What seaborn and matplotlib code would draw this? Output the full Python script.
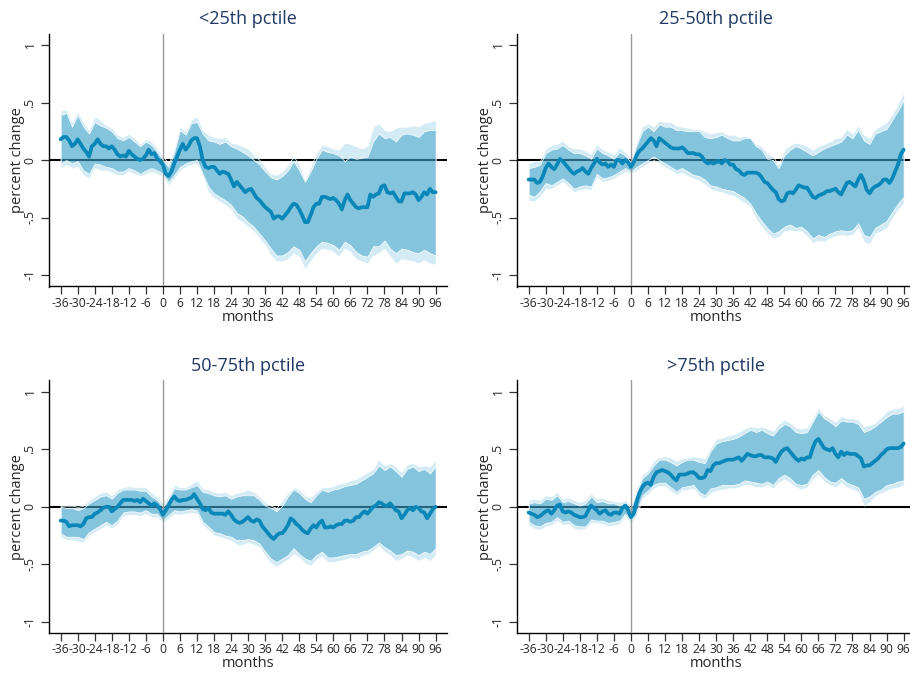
import numpy as np
import pandas as pd
import matplotlib
matplotlib.use("Agg")
import matplotlib.pyplot as plt
import seaborn as sns

# ---------------- data ----------------
months = list(range(-36, 97))
band_months = list(range(-36, 97, 2))
xticks = list(range(-36, 97, 6))
xtick_labels = [str(v) for v in xticks]
yticks = [-1, -0.5, 0, 0.5, 1]
ytick_labels = ["-1", "-.5", "0", ".5", "1"]
titles = ["<25th pctile", "25-50th pctile", "50-75th pctile", ">75th pctile"]

# Panel 1: <25th pctile
p1_mean = [0.18, 0.20, 0.20, 0.17, 0.12, 0.14, 0.18, 0.14, 0.10, 0.07, 0.03, 0.12,
           0.14, 0.18, 0.14, 0.12, 0.12, 0.10, 0.12, 0.09, 0.05, 0.03, 0.04, 0.03,
           0.08, 0.05, 0.03, 0.01, 0.00, 0.01, 0.04, 0.09, 0.05, 0.06, 0.01, -0.01,
           -0.04, -0.12, -0.14, -0.10, -0.03, 0.03, 0.09, 0.14, 0.09, 0.12, 0.17, 0.19,
           0.19, 0.12, 0.00, -0.06, -0.07, -0.06, -0.06, -0.09, -0.12, -0.10, -0.11, -0.12,
           -0.17, -0.23, -0.19, -0.22, -0.25, -0.28, -0.26, -0.25, -0.29, -0.33, -0.35, -0.38,
           -0.41, -0.43, -0.45, -0.51, -0.49, -0.49, -0.51, -0.48, -0.45, -0.41, -0.38, -0.39,
           -0.43, -0.48, -0.54, -0.54, -0.48, -0.41, -0.38, -0.38, -0.32, -0.32, -0.33, -0.34,
           -0.33, -0.35, -0.38, -0.43, -0.35, -0.30, -0.35, -0.38, -0.41, -0.42, -0.41, -0.41,
           -0.41, -0.30, -0.32, -0.30, -0.29, -0.23, -0.22, -0.28, -0.29, -0.28, -0.32, -0.36,
           -0.36, -0.29, -0.29, -0.29, -0.28, -0.30, -0.35, -0.32, -0.28, -0.30, -0.25, -0.28,
           -0.28]
p1_hi = [0.39, 0.41, 0.29, 0.39, 0.29, 0.23, 0.33, 0.30, 0.28, 0.25, 0.19, 0.17, 0.20, 0.16, 0.12, 0.16, 0.13, 0.07,
         0.00, -0.06, 0.07, 0.26, 0.22, 0.32, 0.33, 0.23, 0.17, 0.16, 0.14, 0.16, 0.12, 0.10,
         0.07, 0.04, 0.00, -0.04, -0.10, -0.15, -0.17, -0.14, -0.09, -0.01, -0.09, -0.19, -0.10, 0.01, 0.09, 0.07, 0.06,
         0.04, -0.01, 0.03, 0.01, 0.02, 0.03, 0.16, 0.23, 0.19, 0.20, 0.16, 0.22, 0.23, 0.22, 0.20, 0.25, 0.26, 0.26]
p1_hi2 = [0.43, 0.44, 0.33, 0.42, 0.33, 0.26, 0.38, 0.35, 0.30, 0.28, 0.22, 0.20, 0.23, 0.19, 0.14, 0.18, 0.16, 0.10,
          0.03, -0.03, 0.10, 0.29, 0.25, 0.35, 0.38, 0.26, 0.22, 0.20, 0.19, 0.20, 0.15, 0.14,
          0.12, 0.10, 0.04, 0.00, -0.06, -0.12, -0.13, -0.10, -0.04, 0.03, -0.04, -0.17, -0.06, 0.06, 0.13, 0.12, 0.10,
          0.09, 0.15, 0.14, 0.12, 0.10, 0.12, 0.29, 0.32, 0.26, 0.25, 0.28, 0.29, 0.29, 0.30, 0.29, 0.32, 0.33, 0.35]
p1_lo = [-0.03, 0.00, -0.03, -0.01, -0.09, -0.12, -0.03, -0.04, -0.06, -0.07, -0.10, -0.10, -0.07, -0.09, -0.12, -0.09, -0.07, -0.09,
         -0.12, -0.19, -0.13, -0.06, -0.03, -0.01, 0.00, -0.12, -0.23, -0.29, -0.32, -0.35, -0.39, -0.46,
         -0.49, -0.54, -0.58, -0.64, -0.70, -0.77, -0.83, -0.83, -0.80, -0.75, -0.78, -0.88, -0.81, -0.75, -0.71, -0.72, -0.74,
         -0.78, -0.71, -0.74, -0.80, -0.83, -0.84, -0.75, -0.75, -0.70, -0.77, -0.81, -0.77, -0.78, -0.80, -0.81, -0.78, -0.81, -0.83]
p1_lo2 = [-0.07, -0.04, -0.07, -0.06, -0.13, -0.16, -0.07, -0.09, -0.09, -0.11, -0.13, -0.13, -0.10, -0.12, -0.14, -0.12, -0.10, -0.12,
          -0.14, -0.22, -0.16, -0.09, -0.06, -0.04, -0.03, -0.14, -0.28, -0.33, -0.36, -0.39, -0.43, -0.51,
          -0.54, -0.58, -0.62, -0.68, -0.74, -0.83, -0.88, -0.88, -0.86, -0.81, -0.84, -0.95, -0.88, -0.81, -0.77, -0.78, -0.80,
          -0.84, -0.77, -0.80, -0.86, -0.88, -0.90, -0.83, -0.81, -0.77, -0.84, -0.90, -0.86, -0.87, -0.88, -0.90, -0.87, -0.90, -0.91]

# Panel 2: 25-50th pctile
p2_mean = [-0.17, -0.17, -0.17, -0.20, -0.19, -0.14, -0.07, -0.03, -0.06, -0.08, -0.04, 0.01,
           -0.01, -0.04, -0.07, -0.10, -0.12, -0.10, -0.09, -0.07, -0.10, -0.12, -0.07, -0.03,
           0.01, -0.02, -0.04, -0.03, -0.06, -0.04, -0.06, 0.00, 0.00, -0.03, 0.00, -0.02,
           -0.06, -0.02, 0.04, 0.08, 0.10, 0.13, 0.16, 0.19, 0.17, 0.12, 0.19, 0.17,
           0.15, 0.13, 0.11, 0.10, 0.10, 0.10, 0.11, 0.09, 0.06, 0.06, 0.06, 0.05,
           0.05, 0.03, -0.01, -0.03,
           -0.02, -0.03, -0.02, -0.01, -0.03, 0.00, -0.01, -0.04, -0.04, -0.08, -0.09, -0.12,
           -0.13, -0.11, -0.11, -0.11, -0.11, -0.12, -0.15, -0.19, -0.20, -0.23, -0.26, -0.28,
           -0.34, -0.36, -0.35, -0.29, -0.28, -0.29, -0.26, -0.22, -0.23, -0.24, -0.24, -0.28,
           -0.32, -0.33, -0.31, -0.30, -0.29, -0.27, -0.27, -0.26, -0.25, -0.28, -0.30, -0.25,
           -0.20, -0.19, -0.21, -0.23, -0.17, -0.13, -0.18, -0.26, -0.29, -0.25, -0.23, -0.22,
           -0.20, -0.17, -0.17, -0.20, -0.16, -0.10, -0.04, 0.05, 0.09]
p2_hi = [-0.07, -0.06, -0.04, 0.06, 0.09, 0.10, 0.13, 0.09, 0.06, 0.06, 0.04, 0.01, 0.10, 0.06, 0.04, 0.01, 0.07, 0.04,
         -0.02, 0.13, 0.25, 0.29, 0.25, 0.31, 0.29, 0.29, 0.26, 0.26, 0.25, 0.25, 0.25, 0.20, 0.19, 0.20,
         0.22, 0.19, 0.17, 0.17, 0.19, 0.19, 0.12, 0.09, 0.01, 0.00, -0.07, 0.04, 0.09, 0.12, 0.10, 0.07,
         0.04, 0.07, 0.10, 0.12, 0.14, 0.16, 0.22, 0.19, 0.26, 0.17, 0.14, 0.23, 0.25, 0.27, 0.35, 0.43, 0.52]
p2_hi2 = [-0.03, -0.01, -0.01, 0.10, 0.13, 0.14, 0.17, 0.12, 0.10, 0.10, 0.08, 0.05, 0.14, 0.09, 0.07, 0.05, 0.11, 0.07,
          0.01, 0.16, 0.29, 0.32, 0.29, 0.34, 0.33, 0.33, 0.30, 0.29, 0.28, 0.27, 0.27, 0.25, 0.23, 0.24,
          0.25, 0.22, 0.22, 0.20, 0.21, 0.20, 0.14, 0.12, 0.06, 0.03, -0.04, 0.09, 0.13, 0.15, 0.14, 0.12,
          0.09, 0.12, 0.14, 0.16, 0.19, 0.20, 0.27, 0.23, 0.30, 0.22, 0.19, 0.27, 0.30, 0.33, 0.40, 0.49, 0.59]
p2_lo = [-0.30, -0.32, -0.27, -0.20, -0.22, -0.19, -0.16, -0.20, -0.25, -0.23, -0.22, -0.23, -0.12, -0.16, -0.15, -0.13, -0.10, -0.07,
         -0.10, -0.06, -0.03, 0.00, 0.03, 0.00, -0.03, -0.06, -0.09, -0.07, -0.10, -0.13, -0.14, -0.17, -0.22, -0.23,
         -0.25, -0.26, -0.27, -0.30, -0.33, -0.38, -0.46, -0.53, -0.59, -0.64, -0.62, -0.58, -0.56, -0.59, -0.58, -0.62,
         -0.68, -0.65, -0.67, -0.64, -0.62, -0.61, -0.62, -0.61, -0.55, -0.65, -0.67, -0.59, -0.56, -0.53, -0.45, -0.38, -0.32]
p2_lo2 = [-0.35, -0.36, -0.32, -0.25, -0.25, -0.22, -0.19, -0.23, -0.28, -0.26, -0.25, -0.26, -0.15, -0.19, -0.18, -0.16, -0.13, -0.10,
          -0.12, -0.09, -0.06, -0.03, 0.00, -0.03, -0.06, -0.09, -0.12, -0.11, -0.14, -0.16, -0.18, -0.21, -0.25, -0.27,
          -0.28, -0.30, -0.31, -0.34, -0.37, -0.41, -0.51, -0.58, -0.64, -0.68, -0.67, -0.62, -0.61, -0.62, -0.62, -0.66,
          -0.72, -0.70, -0.71, -0.68, -0.66, -0.65, -0.66, -0.65, -0.59, -0.71, -0.73, -0.64, -0.62, -0.59, -0.51, -0.43, -0.38]

# Panel 3: 50-75th pctile
p3_mean = [-0.12, -0.12, -0.13, -0.17, -0.16, -0.16, -0.16, -0.17, -0.15, -0.10, -0.09, -0.09,
           -0.06, -0.05, -0.03, -0.01, 0.00, 0.00, -0.04, -0.02, 0.00, 0.03, 0.06, 0.06,
           0.06, 0.06, 0.05, 0.06, 0.04, 0.07, 0.05, 0.03, 0.01, 0.03, 0.01, -0.02,
           -0.07, -0.03, 0.01, 0.06, 0.09, 0.06, 0.05, 0.06, 0.06, 0.07, 0.08, 0.11,
           0.07, 0.03, -0.02, -0.03, -0.01, -0.05, -0.06, -0.06, -0.06, -0.06, -0.07, -0.04,
           -0.07, -0.11, -0.13, -0.14, -0.13,
           -0.11, -0.09, -0.12, -0.13, -0.11, -0.12, -0.17, -0.20, -0.23, -0.26, -0.28, -0.25,
           -0.23, -0.23, -0.20, -0.16, -0.10, -0.12, -0.15, -0.17, -0.20, -0.22, -0.23, -0.19,
           -0.16, -0.18, -0.14, -0.12, -0.18, -0.18, -0.17, -0.18, -0.16, -0.15, -0.15, -0.12,
           -0.12, -0.13, -0.12, -0.09, -0.09, -0.06, -0.04, -0.06, -0.03, 0.00, 0.01, 0.04,
           0.03, 0.01, 0.01, 0.03, 0.00, -0.03, -0.04, -0.10, -0.07, -0.03, -0.01, -0.03,
           0.00, -0.01, -0.04, -0.05, -0.10, -0.06, -0.02, 0.00]
p3_hi = [0.00, -0.01, -0.01, -0.03, -0.01, 0.03, 0.06, 0.09, 0.10, 0.07, 0.12, 0.15, 0.15, 0.15, 0.14, 0.14, 0.09, 0.06,
         0.00, 0.07, 0.16, 0.15, 0.15, 0.17, 0.19, 0.13, 0.12, 0.10, 0.09, 0.10, 0.07, 0.09, 0.10,
         0.10, 0.10, 0.06, 0.01, -0.01, -0.04, 0.01, 0.09, 0.15, 0.12, 0.07, 0.04, 0.10, 0.15, 0.13, 0.15, 0.16,
         0.18, 0.19, 0.20, 0.23, 0.26, 0.29, 0.36, 0.32, 0.35, 0.31, 0.26, 0.33, 0.35, 0.31, 0.33, 0.29, 0.35]
p3_hi2 = [0.01, 0.01, 0.01, 0.00, 0.01, 0.06, 0.09, 0.12, 0.13, 0.10, 0.15, 0.17, 0.18, 0.17, 0.17, 0.17, 0.12, 0.09,
          0.03, 0.10, 0.19, 0.17, 0.17, 0.20, 0.23, 0.16, 0.15, 0.13, 0.12, 0.13, 0.10, 0.12, 0.13,
          0.15, 0.13, 0.09, 0.04, 0.01, -0.01, 0.06, 0.12, 0.17, 0.15, 0.10, 0.08, 0.13, 0.17, 0.17, 0.18, 0.20,
          0.21, 0.23, 0.24, 0.27, 0.30, 0.33, 0.41, 0.36, 0.38, 0.35, 0.30, 0.37, 0.38, 0.35, 0.36, 0.35, 0.41]
p3_lo = [-0.23, -0.26, -0.26, -0.26, -0.28, -0.22, -0.19, -0.16, -0.13, -0.16, -0.12, -0.05, -0.04, -0.04, -0.05, -0.03, -0.06, -0.06,
         -0.12, -0.07, -0.03, -0.04, -0.03, -0.02, -0.03, -0.13, -0.17, -0.22, -0.23, -0.25, -0.26, -0.29, -0.29,
         -0.28, -0.29, -0.32, -0.39, -0.45, -0.48, -0.45, -0.42, -0.36, -0.41, -0.45, -0.47, -0.42, -0.39, -0.44, -0.44, -0.43,
         -0.42, -0.41, -0.41, -0.39, -0.38, -0.35, -0.31, -0.35, -0.38, -0.42, -0.41, -0.38, -0.39, -0.42, -0.39, -0.41, -0.36]
p3_lo2 = [-0.26, -0.29, -0.29, -0.30, -0.31, -0.25, -0.22, -0.19, -0.16, -0.19, -0.15, -0.08, -0.07, -0.07, -0.08, -0.06, -0.09, -0.09,
          -0.14, -0.10, -0.06, -0.07, -0.06, -0.05, -0.06, -0.16, -0.20, -0.25, -0.26, -0.28, -0.29, -0.33, -0.33,
          -0.31, -0.33, -0.35, -0.43, -0.49, -0.52, -0.49, -0.46, -0.41, -0.44, -0.49, -0.51, -0.46, -0.43, -0.48, -0.48, -0.47,
          -0.46, -0.44, -0.45, -0.43, -0.41, -0.38, -0.34, -0.39, -0.42, -0.47, -0.45, -0.42, -0.44, -0.47, -0.44, -0.47, -0.42]

# Panel 4: >75th pctile
p4_mean = [-0.05, -0.06, -0.07, -0.09, -0.08, -0.06, -0.04, -0.03, -0.06, -0.03, 0.01, 0.02,
           -0.04, -0.05, -0.04, -0.05, -0.07, -0.08, -0.09, -0.09, -0.08, -0.03, 0.01, -0.01,
           -0.03, -0.06, -0.04, -0.03, -0.06, -0.07, -0.05, -0.05, -0.06, -0.01, 0.01, -0.03,
           -0.09, -0.06, 0.04, 0.12, 0.17, 0.20, 0.21, 0.19, 0.26, 0.30, 0.31, 0.32,
           0.31, 0.30, 0.28, 0.25, 0.23, 0.28, 0.28, 0.28, 0.29, 0.30, 0.30, 0.28,
           0.25, 0.25, 0.26, 0.32, 0.31,
           0.36, 0.38, 0.38, 0.39, 0.40, 0.41, 0.41, 0.41, 0.42, 0.43, 0.40, 0.43,
           0.46, 0.45, 0.44, 0.44, 0.45, 0.45, 0.43, 0.43, 0.43, 0.42, 0.39, 0.44,
           0.48, 0.50, 0.51, 0.48, 0.45, 0.42, 0.40, 0.42, 0.41, 0.43, 0.43, 0.51,
           0.57, 0.59, 0.55, 0.51, 0.50, 0.49, 0.51, 0.46, 0.43, 0.48, 0.45, 0.47,
           0.46, 0.46, 0.46, 0.44, 0.42, 0.35, 0.36, 0.36, 0.38, 0.40, 0.42, 0.45,
           0.47, 0.50, 0.51, 0.51, 0.51, 0.51, 0.52, 0.55]
p4_hi = [0.03, 0.04, 0.03, 0.07, 0.06, 0.10, 0.04, 0.05, 0.03, 0.01, 0.03, 0.09, 0.04, 0.05, 0.03, 0.03, 0.01, 0.04,
         -0.01, 0.13, 0.25, 0.29, 0.36, 0.41, 0.41, 0.39, 0.36, 0.39, 0.41, 0.41, 0.39, 0.38, 0.48,
         0.55, 0.57, 0.58, 0.59, 0.61, 0.64, 0.67, 0.65, 0.67, 0.64, 0.62, 0.68, 0.72, 0.70, 0.65, 0.64, 0.65,
         0.74, 0.83, 0.77, 0.74, 0.70, 0.75, 0.74, 0.74, 0.72, 0.65, 0.67, 0.70, 0.74, 0.78, 0.81, 0.81, 0.83]
p4_hi2 = [0.06, 0.07, 0.06, 0.10, 0.09, 0.13, 0.07, 0.08, 0.06, 0.04, 0.06, 0.12, 0.07, 0.08, 0.06, 0.05, 0.04, 0.06,
          0.01, 0.16, 0.28, 0.32, 0.40, 0.43, 0.44, 0.43, 0.40, 0.42, 0.43, 0.44, 0.43, 0.42, 0.51,
          0.59, 0.60, 0.62, 0.63, 0.65, 0.68, 0.70, 0.69, 0.70, 0.68, 0.66, 0.72, 0.76, 0.73, 0.69, 0.68, 0.69,
          0.77, 0.86, 0.80, 0.77, 0.74, 0.79, 0.77, 0.77, 0.76, 0.70, 0.71, 0.73, 0.78, 0.83, 0.85, 0.86, 0.88]
p4_lo = [-0.13, -0.16, -0.17, -0.14, -0.13, -0.09, -0.13, -0.12, -0.16, -0.17, -0.17, -0.11, -0.12, -0.12, -0.14, -0.13, -0.12, -0.06,
         -0.12, -0.04, 0.10, 0.14, 0.19, 0.21, 0.21, 0.17, 0.13, 0.17, 0.18, 0.19, 0.13, 0.10, 0.16,
         0.17, 0.19, 0.19, 0.19, 0.20, 0.23, 0.22, 0.21, 0.20, 0.22, 0.19, 0.25, 0.28, 0.25, 0.20, 0.19, 0.20,
         0.28, 0.32, 0.26, 0.22, 0.21, 0.25, 0.21, 0.19, 0.17, 0.07, 0.09, 0.13, 0.15, 0.19, 0.20, 0.22, 0.23]
p4_lo2 = [-0.16, -0.19, -0.20, -0.17, -0.16, -0.12, -0.16, -0.15, -0.19, -0.20, -0.19, -0.14, -0.14, -0.15, -0.17, -0.16, -0.15, -0.08,
          -0.15, -0.07, 0.07, 0.11, 0.16, 0.18, 0.18, 0.14, 0.10, 0.14, 0.15, 0.16, 0.10, 0.07, 0.12,
          0.14, 0.15, 0.16, 0.16, 0.17, 0.19, 0.19, 0.17, 0.17, 0.19, 0.16, 0.21, 0.24, 0.21, 0.17, 0.15, 0.17,
          0.24, 0.28, 0.22, 0.19, 0.17, 0.21, 0.17, 0.15, 0.13, 0.01, 0.04, 0.09, 0.12, 0.14, 0.16, 0.17, 0.19]

panels = [
    (p1_mean, p1_lo, p1_hi, p1_lo2, p1_hi2),
    (p2_mean, p2_lo, p2_hi, p2_lo2, p2_hi2),
    (p3_mean, p3_lo, p3_hi, p3_lo2, p3_hi2),
    (p4_mean, p4_lo, p4_hi, p4_lo2, p4_hi2),
]

# ---------------- style ----------------
sns.set_style("ticks")
plt.rcParams['font.family'] = ['Open Sans', 'DejaVu Sans']

LINE = "#0a87b9"
INNER = (57 / 255, 159 / 255, 199 / 255, 0.5)
OUTER = (72 / 255, 172 / 255, 213 / 255, 0.24)
TITLE_C = "#1f3864"

FW, FH = 910, 675
fig = plt.figure(figsize=(FW / 100, FH / 100), dpi=100)
AW, AH = 398.3, 253.0
origins = [(48.7, 33.5), (516.7, 33.5), (48.7, 380.3), (516.7, 380.3)]

for i, ((mean, lo, hi, lo2, hi2), (l, t)) in enumerate(zip(panels, origins)):
    ax = fig.add_axes([l / FW, 1 - (t + AH) / FH, AW / FW, AH / FH])
    assert len(mean) == len(months), (i, len(mean))
    for arr in (lo, hi, lo2, hi2):
        assert len(arr) == len(band_months), (i, len(arr))

    ax.axhline(0, color="black", lw=1.5, zorder=1)
    ax.fill_between(band_months, lo2, hi2, facecolor=OUTER, edgecolor="white",
                    linewidth=0.5, zorder=2)
    ax.fill_between(band_months, lo, hi, facecolor=INNER, edgecolor="white",
                    linewidth=0.5, zorder=3)
    ax.axvline(0, color="#9a9a9a", lw=1.0, zorder=4)
    df = pd.DataFrame({"months": months, "value": mean})
    sns.lineplot(data=df, x="months", y="value", color=LINE, linewidth=2.7,
                 ax=ax, zorder=5)

    ax.set_xlim(-40.2, 100)
    ax.set_ylim(-1.1, 1.1)
    ax.set_xticks(xticks)
    ax.set_xticklabels(xtick_labels, fontsize=8.7)
    ax.set_yticks(yticks)
    ax.set_yticklabels(ytick_labels, rotation=90, va="center", fontsize=8.7)
    ax.tick_params(axis="x", direction="out", length=5.8, width=0.9, color="#333333", pad=1.5)
    ax.tick_params(axis="y", direction="out", length=5.8, width=0.9, color="#333333", pad=3)
    ax.set_xlabel("months", fontsize=10.5, labelpad=0)
    ax.set_ylabel("percent change", fontsize=10.5, labelpad=-1)
    ax.set_title(titles[i], fontsize=13, color=TITLE_C, pad=7)
    sns.despine(ax=ax)
    for sp in ("left", "bottom"):
        ax.spines[sp].set_linewidth(1.0)
        ax.spines[sp].set_color("black")

fig.savefig("out.png", dpi=100)
